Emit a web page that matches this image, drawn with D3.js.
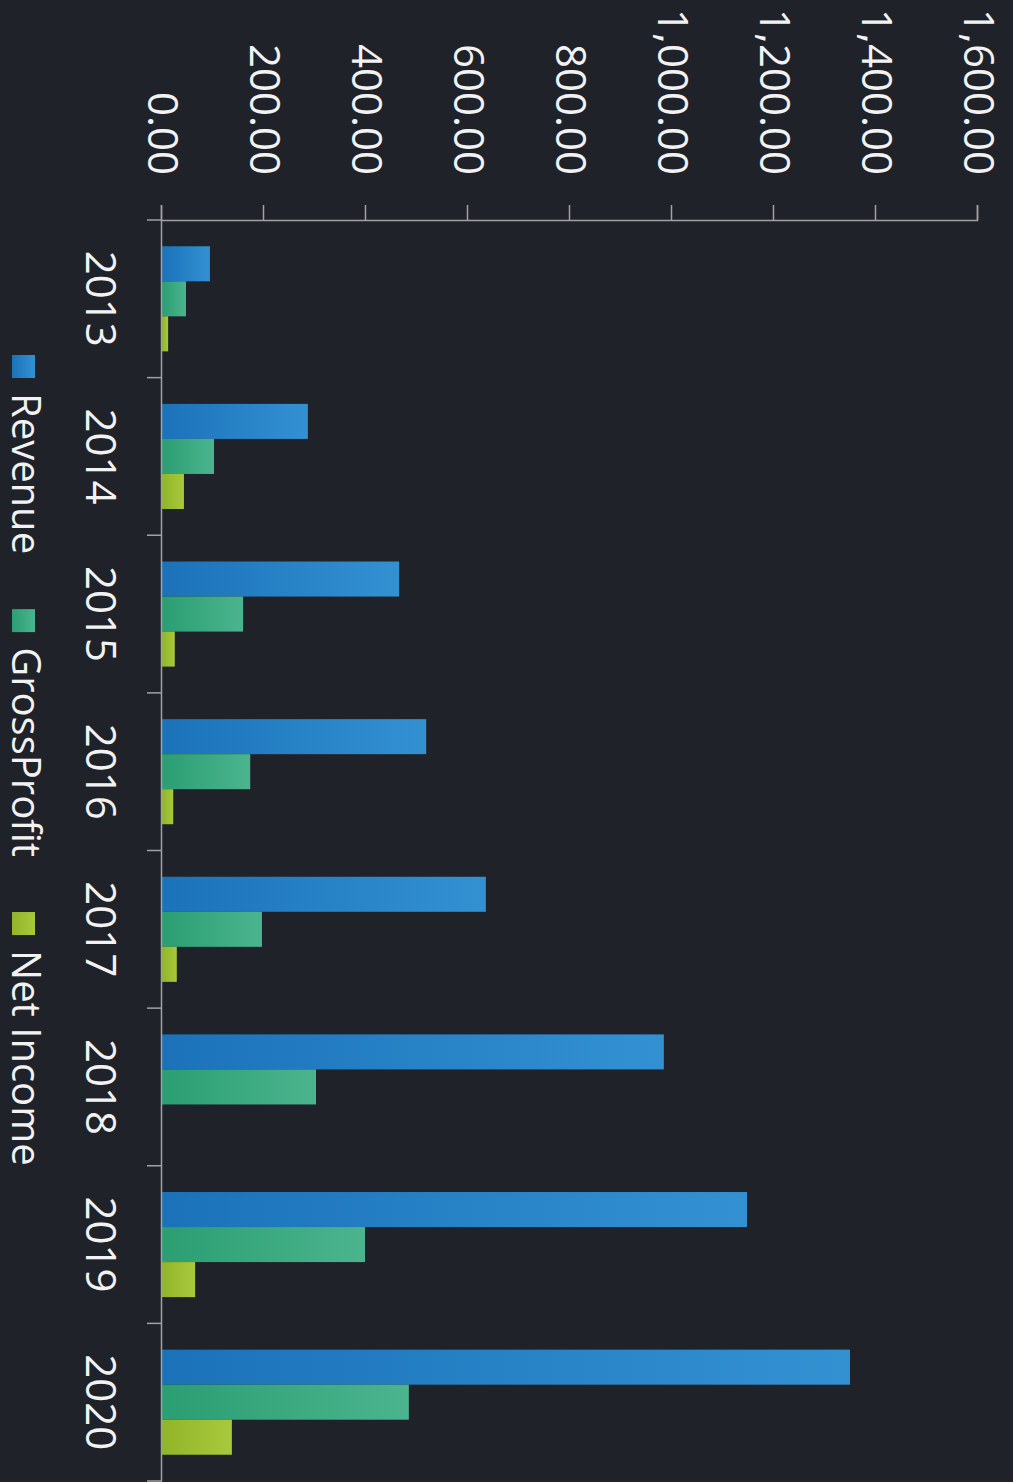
<!DOCTYPE html>
<html>
<head>
<meta charset="utf-8">
<script src="https://cdn.jsdelivr.net/npm/d3@7"></script>
<style>
  html, body { margin: 0; padding: 0; background: #1f2228; }
  svg { display: block; }
</style>
</head>
<body>
<div id="chart"></div>
<script>
// données
const years = ["2013", "2014", "2015", "2016", "2017", "2018", "2019", "2020"];
const series = ["Revenue", "GrossProfit", "Net Income"];
const revenue = [94, 286, 465, 518, 635, 984, 1147, 1349];
const grossProfit = [47, 102, 159, 173, 196, 302, 398, 484];
const netIncome = [12, 43, 25, 22, 29, 0, 65, 137];
const yTicks = [0, 200, 400, 600, 800, 1000, 1200, 1400, 1600];

const values = { "Revenue": revenue, "GrossProfit": grossProfit, "Net Income": netIncome };
const colors = {
    "Revenue": ["#1b72b9", "#3391d2"],
    "GrossProfit": ["#2b9e72", "#4bb48e"],
    "Net Income": ["#91b428", "#a9c93c"]
};

const W = 1013, H = 1482;
// le graphique est dessiné à plat puis tourné de 90°
const w = H, h = W;
const font = "'Open Sans', 'Noto Sans', sans-serif";
const textColor = "#f2f2f2", axisColor = "#a0a2a6";

const svg = d3.select("#chart").append("svg")
    .attr("width", W)
    .attr("height", H)
    .attr("viewBox", [0, 0, W, H]);

svg.append("rect").attr("width", W).attr("height", H).attr("fill", "#1f2228");

const defs = svg.append("defs");
series.forEach((s, i) => {
    const g = defs.append("linearGradient")
        .attr("id", "grad" + i)
        .attr("x1", 0).attr("y1", 1).attr("x2", 0).attr("y2", 0);
    g.append("stop").attr("offset", "0%").attr("stop-color", colors[s][0]);
    g.append("stop").attr("offset", "100%").attr("stop-color", colors[s][1]);
});

const root = svg.append("g")
    .attr("transform", `translate(${W},0) rotate(90)`);

const marginLeft = 220, marginRight = 1, zeroY = 851, topY = 35;

const x0 = d3.scaleBand(years, [marginLeft, w - marginRight]);
const x1 = d3.scaleBand(series, [0, x0.bandwidth()]).paddingOuter(0.75);
const y = d3.scaleLinear([0, 1600], [zeroY, topY]);

// barres
const groups = root.append("g")
  .selectAll("g")
  .data(years)
  .join("g")
    .attr("transform", d => `translate(${x0(d)},0)`);

groups.selectAll("rect")
  .data((d, i) => series.map((s, k) => ({ s, k, v: values[s][i] })))
  .join("rect")
    .attr("x", d => x1(d.s))
    .attr("width", x1.bandwidth())
    .attr("y", d => y(d.v))
    .attr("height", d => y(0) - y(d.v))
    .attr("fill", d => `url(#grad${d.k})`);

// axe des valeurs
root.append("g")
    .attr("transform", `translate(${marginLeft},0)`)
    .call(d3.axisLeft(y).tickValues(yTicks).tickFormat(d3.format(",.2f")).tickSize(15).tickPadding(30))
    .call(g => g.selectAll("path, line").attr("stroke", axisColor).attr("stroke-width", 1.5))
    .call(g => g.selectAll("text")
        .attr("fill", textColor)
        .style("font", `42px ${font}`));

// axe des années
root.append("g")
    .attr("transform", `translate(0,${zeroY})`)
    .call(d3.axisBottom(x0).tickSize(0).tickPadding(46))
    .call(g => g.select(".domain").attr("stroke", axisColor).attr("stroke-width", 1.5))
    .call(g => g.selectAll("text")
        .attr("fill", textColor)
        .style("font", `42px ${font}`))
    .call(g => g.selectAll(".edge")
        .data(years.map(d => x0(d)).concat([x0.range()[1]]))
        .join("line")
        .attr("class", "edge")
        .attr("x1", d => d).attr("x2", d => d)
        .attr("y1", 0).attr("y2", 15)
        .attr("stroke", axisColor).attr("stroke-width", 1.5));

// légende
const legend = root.append("g").attr("transform", "translate(355,978)");
let lx = 0;
series.forEach((s, i) => {
    const item = legend.append("g").attr("transform", `translate(${lx},0)`);
    item.append("rect")
        .attr("width", 23).attr("height", 23)
        .attr("fill", `url(#grad${i})`);
    const t = item.append("text")
        .attr("x", 38).attr("y", 23)
        .attr("fill", textColor)
        .style("font", `40px ${font}`)
        .text(s);
    lx += 38 + t.node().getComputedTextLength() + 55;
});
</script>
</body>
</html>
